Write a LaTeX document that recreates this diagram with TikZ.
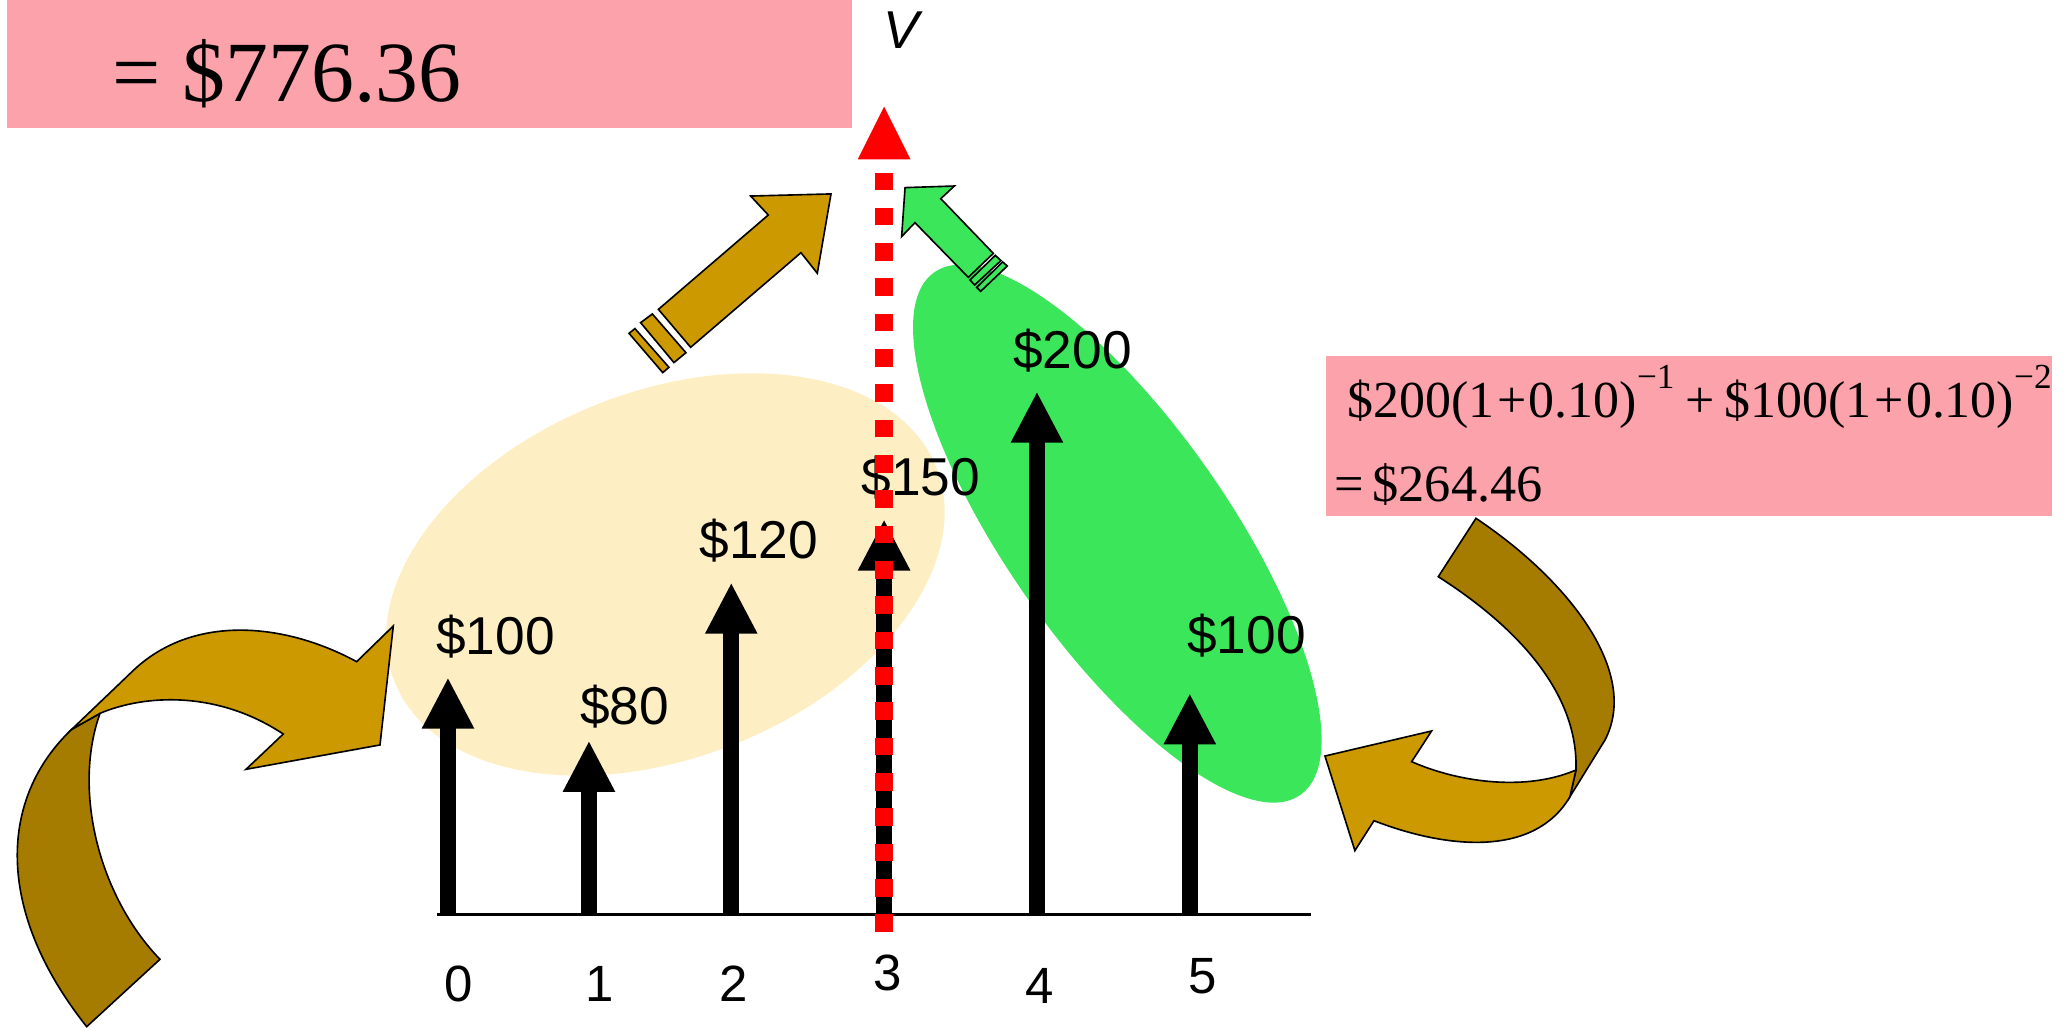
\documentclass[tikz,border=0pt]{standalone}
\usepackage{fontspec}
\setmainfont{Liberation Serif}
\newfontfamily\arialf{Liberation Sans}
\definecolor{pinkbox}{HTML}{FCA2AA}
\definecolor{yellowell}{HTML}{FDEFC3}
\definecolor{greenell}{HTML}{3BE65A}
\definecolor{goldc}{HTML}{CC9900}
\definecolor{darkgold}{HTML}{A67C00}
\newcommand{\tp}{\kern0.05em}
\newcommand{\supx}[1]{\raisebox{0.55em}{\fontsize{7.6}{8}\selectfont #1}}
\begin{document}
\begin{tikzpicture}[x=0.01cm,y=-0.01cm,
  lbl/.style={font=\arialf\fontsize{11.5}{13}\selectfont, inner sep=0pt, anchor=base},
  ticklbl/.style={font=\arialf\fontsize{11}{13}\selectfont, inner sep=0pt, anchor=base},
  serif/.style={inner sep=0pt, anchor=base west},
  goldbody/.style={fill=goldc, draw=black, line width=0.35pt, line join=miter},
  darkbody/.style={fill=darkgold, draw=black, line width=0.35pt, line join=miter},
  greenbody/.style={fill=greenell, draw=black, line width=0.35pt, line join=miter},
  cfshaft/.style={fill=black},
]
\useasboundingbox (0,0) rectangle (1568,780);

% pink boxes
\fill[pinkbox] (5,0) rectangle (647,97);
\fill[pinkbox] (1006,270) rectangle (1557,392);
\node[serif, font=\fontsize{18.5}{20}\selectfont] (pvtot) at (85,77) {= \$776.36};
\node[serif, font=\fontsize{11.2}{13}\selectfont] (pvf1) at (1022,316.6)
  {\$200(1\tp+\tp0.10)\supx{−1}\kern0.22em+\kern0.18em\$100(1\tp+\tp0.10)\supx{−2}};
\node[serif, font=\fontsize{11.3}{13}\selectfont] (pvf2) at (1012,381) {=\,\$264.46};

% ellipses
\fill[yellowell, rotate around={21.5:(505,436)}] (505,436) ellipse [x radius=2.21cm, y radius=1.39cm];
\fill[greenell, rotate around={-55:(848,405)}] (848,405) ellipse [x radius=2.42cm, y radius=0.84cm];

% axis
\coordinate (axL) at (332,694);
\coordinate (axR) at (995,694);
\draw[line width=0.02cm] (axL) -- (axR);

% cash flow arrows
\foreach \x/\t in {340/515, 447/563, 555/443, 671/395, 787/298, 903/527} {
  \fill[cfshaft] (\x-6,694) rectangle (\x+6,\t+37);
  \fill[cfshaft] (\x,\t) -- (\x-20,\t+38) -- (\x+20,\t+38) -- cycle;
}

% labels
\node[lbl] (c0) at (376,497) {\$100};
\node[lbl] (c1) at (474,550) {\$80};
\node[lbl] (c2) at (576,424) {\$120};
\node[lbl] (c3) at (699,376) {\$150};
\node[lbl] (c4) at (814,280) {\$200};
\node[lbl] (c5) at (946,496) {\$100};

\node[ticklbl] (t0) at (348,760) {0};
\node[ticklbl] (t1) at (455,760) {1};
\node[ticklbl] (t2) at (557,760) {2};
\node[ticklbl] (t3) at (674,752) {3};
\node[ticklbl] (t4) at (789,762) {4};
\node[ticklbl] (t5) at (913,754) {5};

% red V axis
\coordinate (vbot) at (671,707.4);
\coordinate (vtop) at (671,131.2);
\draw[red, line width=0.134cm, dash pattern=on 0.134cm off 0.134cm] (vbot) -- (vtop);
\fill[red] (671,81) -- (651,121) -- (691,121) -- cycle;
\node[lbl, font=\arialf\itshape\fontsize{11.5}{13}\selectfont] (vlab) at (684,37) {V};

% gold straight arrow
\filldraw[goldbody] (630.7,147.2) -- (569.7,148.8) -- (583.1,163.2) -- (499.7,234.8)
  -- (524.2,263.6) -- (607.9,191.8) -- (620.3,207.4) -- cycle;
\filldraw[goldbody] (486.2,244.9) -- (495.1,238.3) -- (520.6,267.7) -- (511.5,275.2) -- cycle;
\filldraw[goldbody] (477.4,253) -- (481.9,249.4) -- (507.7,278.8) -- (503,282.8) -- cycle;

% green straight arrow
\filldraw[greenbody] (686.9,142.4) -- (724.3,141.2) -- (714,150.8) -- (753.9,192.3)
  -- (734.9,210.5) -- (694.4,169) -- (684.3,179.6) -- cycle;
\filldraw[greenbody] (755.4,193.8) -- (759.7,197.8) -- (739.7,216.3) -- (736.2,212.5) -- cycle;
\filldraw[greenbody] (761,198.8) -- (764.5,201.9) -- (744.3,221.1) -- (741.3,218.1) -- cycle;

% left curved arrow
\filldraw[darkbody] (54.4,553.6) .. controls (0,605) and (-5,690) .. (65.8,779.2)
  -- (121.4,728.1) .. controls (75,680) and (55,600) .. (75.9,541.4) -- cycle;
\filldraw[goldbody] (75.9,541.4) .. controls (110,527) and (165,524) .. (215,557.1)
  -- (186.7,583.9) -- (288.4,565.4) -- (298.5,475.1) -- (270.7,502.2)
  .. controls (215,472) and (145,466) .. (100,510) -- (54.4,553.6) -- cycle;

% right curved arrow
\filldraw[darkbody] (1091.6,437.7) -- (1120.2,393.4) .. controls (1190,440) and (1245,510) .. (1218.1,561.7)
  -- (1191.5,604.7) -- (1196.1,584.4) .. controls (1198,525) and (1150,475) .. (1091.6,437.7) -- cycle;
\filldraw[goldbody] (1196.1,584.4) .. controls (1160,600) and (1110,595) .. (1071.4,578.1)
  -- (1086.5,554.8) -- (1005.6,573.8) -- (1028.3,645.6) -- (1042.8,622.9)
  .. controls (1100,645) and (1165,650) .. (1191.5,604.7) -- cycle;
\end{tikzpicture}
\end{document}
